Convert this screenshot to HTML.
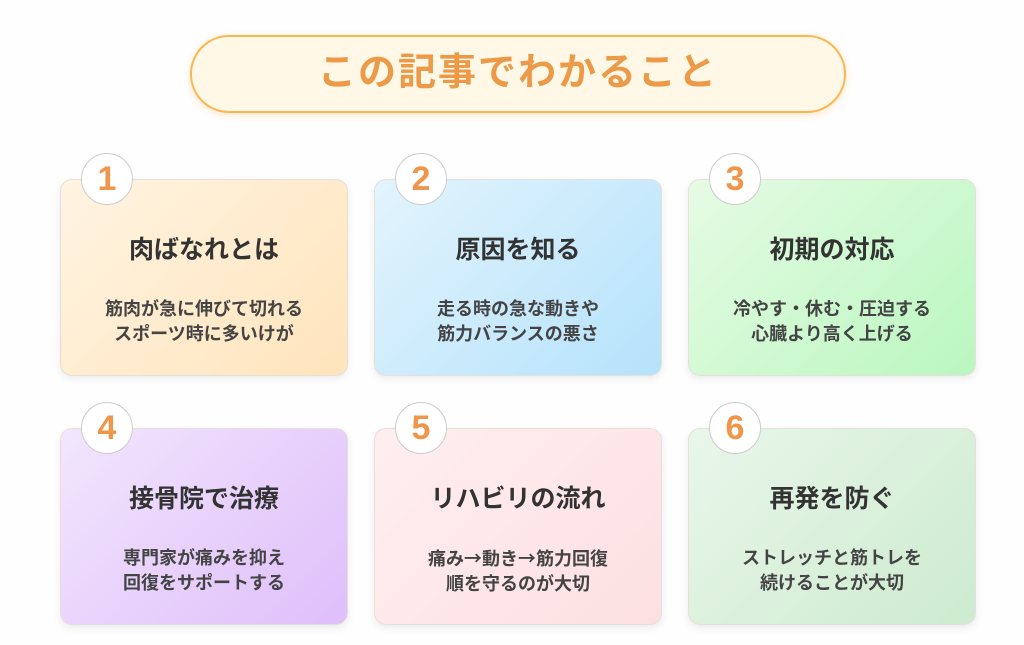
<!DOCTYPE html>
<html><head><meta charset="utf-8"><style>
*{margin:0;padding:0;box-sizing:border-box}
body{width:1024px;height:645px;background:#fefefe;position:relative;overflow:hidden;font-family:"Liberation Sans","Noto Sans CJK JP",sans-serif}
.title{position:absolute;left:190px;top:35px;width:656px;height:78px;border:2px solid #fdb54f;border-radius:39px;background:#fff8e6;box-shadow:0 2px 8px rgba(253,181,79,.3);text-align:center;line-height:72px;font-size:38px;font-weight:bold;color:#ec9a48;letter-spacing:2px}
.card{position:absolute;width:288px;height:197px;border-radius:12px;border:1px solid #e6e0da;box-shadow:0 3px 8px rgba(0,0,0,.08);text-align:center;color:#333}
.card h2{position:absolute;top:50px;left:0;right:0;font-size:25px;font-weight:bold}
.card p{position:absolute;top:117px;left:0;right:0;font-size:18px;line-height:25px;font-weight:bold;color:#444}
.num{position:absolute;left:20px;top:-27px;width:52px;height:52px;border-radius:50%;background:#fff;border:1px solid #ccc;color:#f0964a;font-size:34px;font-weight:bold;line-height:50px;text-align:center}
.ar{font-family:"Noto Sans CJK JP",sans-serif}
.c1{background:linear-gradient(135deg,#fff4e2,#ffe4bc)}
.c2{background:linear-gradient(135deg,#e3f4fd,#b5e2fb)}
.c3{background:linear-gradient(135deg,#e6fbe4,#baf7c0)}
.c4{background:linear-gradient(135deg,#f2e6fd,#dfbefa)}
.c5{background:linear-gradient(135deg,#ffeef0,#fde0e2)}
.c6{background:linear-gradient(135deg,#e9f6ea,#cdebcf)}
</style></head><body>
<div class="title">この記事でわかること</div>
<div class="card c1" style="left:60px;top:179px"><div class="num">1</div><h2>肉ばなれとは</h2><p>筋肉が急に伸びて切れる<br>スポーツ時に多いけが</p></div>
<div class="card c2" style="left:374px;top:179px"><div class="num">2</div><h2>原因を知る</h2><p>走る時の急な動きや<br>筋力バランスの悪さ</p></div>
<div class="card c3" style="left:688px;top:179px"><div class="num">3</div><h2>初期の対応</h2><p>冷やす・休む・圧迫する<br>心臓より高く上げる</p></div>
<div class="card c4" style="left:60px;top:428px"><div class="num">4</div><h2>接骨院で治療</h2><p>専門家が痛みを抑え<br>回復をサポートする</p></div>
<div class="card c5" style="left:374px;top:428px"><div class="num">5</div><h2>リハビリの流れ</h2><p>痛み<span class="ar">→</span>動き<span class="ar">→</span>筋力回復<br>順を守るのが大切</p></div>
<div class="card c6" style="left:688px;top:428px"><div class="num">6</div><h2>再発を防ぐ</h2><p>ストレッチと筋トレを<br>続けることが大切</p></div>
</body></html>
